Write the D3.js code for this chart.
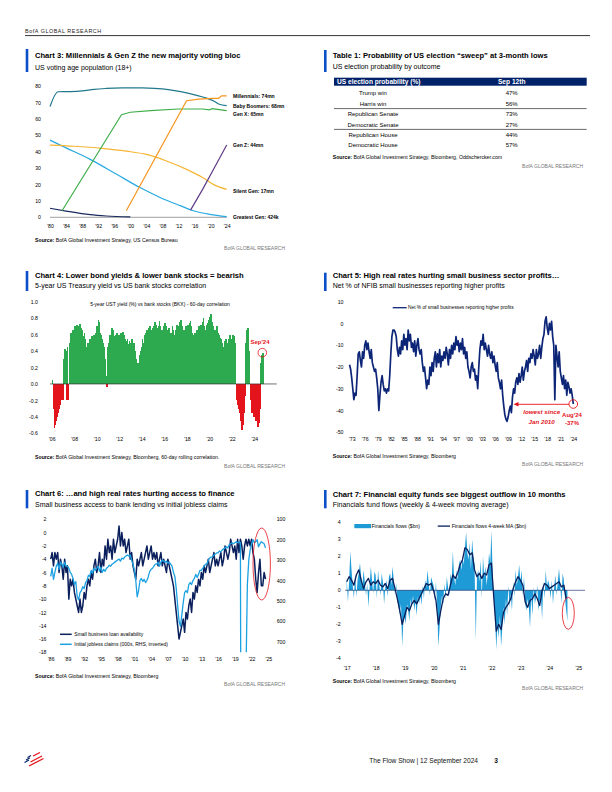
<!DOCTYPE html>
<html><head><meta charset="utf-8">
<script src="https://cdn.jsdelivr.net/npm/d3@7"></script>
<style>
body{margin:0;background:#fff}
svg{display:block}
text{font-family:"Liberation Sans Narrow","Arial Narrow","Liberation Sans",sans-serif}
</style></head><body>
<svg id="page" width="612" height="792"></svg>
<script>
// ---------------- DATA ----------------
// Chart 3: US voting age population (mn)
const boomersYears = [1980,1982,1985,1988,1991,1994,1998,2003,2006,2008,2011,2014,2016,2019,2021,2022,2024];
const boomersVals  = [67.5,76.5,76.6,77,78,78.5,78.8,78.8,78.6,78.2,77.2,75.8,74.6,72.6,70.6,69,68];
const genXYears = [1983,1997.8,2000,2005,2012,2018,2019.8,2020.3,2024];
const genXVals  = [4,62.5,64,65,66,66,65.5,66.2,65];
const millYears = [1999,2014,2017,2020.5,2022,2022.7,2024];
const millVals  = [4,71,72,72.5,72.5,74,74];
const genZYears = [2015,2018,2021,2024];
const genZVals  = [4.4,17,30.5,44];
const silentYears = [1980,1986,1993,1999,2004,2009,2014,2018,2021,2024];
const silentVals  = [44,43.3,42,40.3,38.3,34.3,29.2,24.2,19.6,17];
const greatestYears = [1980,1984,1990,1996.6,2002.4,2007.4,2012.4,2015.7,2019.8,2024];
const greatestVals  = [47,42.3,35.3,26.2,18.1,12.1,7.1,4,1.8,0.4];
const lostYears = [1980,1984,1990,1994,2000];
const lostVals  = [5.5,3.8,1.6,0.8,0.2];
const genLabels = ["Millennials: 74mn","Baby Boomers: 68mn","Gen X: 65mn","Gen Z: 44mn","Silent Gen: 17mn","Greatest Gen: 424k"];
const c3YTicks = [0,10,20,30,40,50,60,70,80];
const c3XTicks = [1980,1984,1988,1992,1996,2000,2004,2008,2012,2016,2020,2024];
const c3XLabels = ["'80","'84","'88","'92","'96","'00","'04","'08","'12","'16","'20","'24"];

// Table 1
const tableHeader = ["US election probability (%)","Sep 12th"];
const outcomes = ["Trump win","Harris win","Republican Senate","Democratic Senate","Republican House","Democratic House"];
const probs = [47,56,73,27,44,57];

// Chart 4: 60-day correlation, monthly from Jan 2006
const corrStart = 2006;
const corrVals = [
 0.05,-0.3,-0.54,-0.5,-0.45,-0.4,-0.35,-0.3,-0.25,-0.2,-0.12,-0.2,
 0.3,0.42,0.4,-0.2,0.45,-0.2,0.5,0.58,0.62,0.6,0.66,0.62,
 0.7,0.66,0.72,0.65,0.7,0.73,0.68,0.6,0.66,0.58,0.62,0.55,
 0.35,0.45,0.5,0.48,0.55,0.52,0.58,0.5,0.6,0.55,0.62,0.7,
 0.65,0.78,0.75,0.62,0.6,0.55,0.5,0.45,0.3,0.1,-0.04,0.45,
 0.5,0.6,0.55,0.68,0.6,0.66,0.58,0.55,0.6,0.62,0.58,0.6,
 0.55,0.62,0.58,0.63,0.6,0.55,0.52,0.5,0.55,0.48,0.52,0.45,
 0.5,0.55,0.45,0.5,0.4,0.3,0.25,0.22,0.25,0.35,0.4,0.45,
 0.55,0.5,0.6,0.58,0.62,0.65,0.6,0.68,0.7,0.65,0.62,0.68,
 0.7,0.75,0.72,0.65,0.68,0.7,0.76,0.7,0.62,0.65,0.6,0.7,
 0.74,0.7,0.65,0.6,0.68,0.55,0.62,0.58,0.7,0.65,0.6,0.66,
 0.68,0.72,0.7,0.65,0.75,0.78,0.7,0.65,0.6,0.66,0.7,0.68,
 0.72,0.65,0.74,0.76,0.7,0.62,0.6,0.55,0.62,0.58,0.65,0.6,
 0.7,0.65,0.72,0.6,0.75,0.8,0.7,0.65,0.72,0.68,0.74,0.78,
 0.82,0.85,0.75,0.7,0.66,0.6,0.65,0.7,0.62,0.58,0.6,0.56,
 0.55,0.5,0.4,0.45,0.52,0.55,0.5,0.48,0.55,0.6,0.55,0.5,
 0.6,0.55,0.58,0.5,-0.1,-0.2,-0.25,-0.3,-0.35,-0.45,-0.56,-0.5,
 -0.35,-0.15,0.5,0.65,0.68,0.6,0.4,-0.2,-0.3,-0.35,-0.3,-0.4,
 -0.35,-0.45,-0.4,-0.52,-0.48,-0.3,0.25,0.35,0.38];
const c4YTicks = [-0.6,-0.4,-0.2,0,0.2,0.4,0.6,0.8,1.0];
const c4YLabels = ["-0.6","-0.4","-0.2","0.0","0.2","0.4","0.6","0.8","1.0"];
const c4XTicks = [2006,2008,2010,2012,2014,2016,2018,2020,2022,2024];
const c4XLabels = ["'06","'08","'10","'12","'14","'16","'18","'20","'22","'24"];

// Chart 5: NFIB net % higher profits, quarterly from 1972.5
const nfibStart = 1972.5;
const nfibVals = [
 -19,-21,
 -25,-30,-35,-32, -33,-24,-14,-13, -17,-20,-13,-16, -10,-8,-12,-9,
 -13,-16,-12,-18, -20,-22,-21,-25, -30,-40,-33,-27, -24,-28,-31,-30,
 -32,-30,-31,-24, -14,-6,-3,-3, -4,-6,-12,-15, -11,-14,-8,-12,
 -5,-10,-7,-12, -3,-8,-5,-11, -9,-13,-8,-15, -10,-7,-12,-14,
 -12,-18,-22,-20, -25,-30,-26,-28, -20,-24,-18,-22, -16,-13,-20,-14,
 -18,-12,-20,-15, -17,-13,-16,-11, -14,-19,-12,-16, -10,-14,-9,-12,
 -6,-10,-8,-13, -9,-12,-7,-14, -11,-16,-13,-20, -22,-25,-20,-18,
 -22,-21,-26,-24, -30,-20,-12,-8, -10,-5,-12,-9, -12,-15,-10,-14,
 -16,-13,-18,-15, -19,-22,-18,-25, -27,-30,-26,-33, -38,-42,-44,-45,
 -43,-40,-38,-41, -34,-30,-32,-27, -25,-28,-23,-27, -24,-20,-26,-22,
 -20,-17,-22,-16, -18,-14,-16,-12, -15,-19,-12,-16, -14,-10,-16,-11,
 -7,-5,1,3, -2,-5,0,-3, 1,-6,-10,-35, -10,-15,-20,-13,
 -22,-25,-28,-24, -30,-26,-33,-27, -29,-32,-30,-33, -37];
const c5YTicks = [-50,-40,-30,-20,-10,0,10];
const c5XTicks = [1973,1976,1979,1982,1985,1988,1991,1994,1997,2000,2003,2006,2009,2012,2015,2018,2021,2024];
const c5XLabels = ["'73","'76","'79","'82","'85","'88","'91","'94","'97","'00","'03","'06","'09","'12","'15","'18","'21","'24"];

// Chart 6: quarterly from 1986.0
const c6Start = 1986;
const loanVals = [
 -4,-3,-5,-3, -4,-3,-6,-4, -5,-7,-4,-6, -5,-10,-7,-8, -7,-9,-10,-11,
 -12,-10,-12,-11, -9,-10,-8,-7, -8,-6,-7,-5, -4,-6,-5,-3, -6,-4,-5,-2,
 -4,-1,-3,-2, -4,-1,-3,-2, -1,1,-2,0, -2,-1,-3,-2, -1,-4,-3,-5,
 -6,-7,-4,-5, -4,-3,-5,-4, -3,-2,-4,-3, -2,-4,-3,-4, -3,-5,-4,-3,
 -5,-4,-5,-6, -4,-5,-6,-7, -8,-10,-12,-14, -16,-15,-14,-13, -15,-12,-13,-11,
 -10,-12,-9,-10, -8,-9,-7,-8, -6,-7,-5,-6, -5,-4,-6,-5, -4,-3,-5,-4,
 -5,-4,-3,-5, -4,-2,-3,-4, -3,-1,-2,-3, -2,-4,-1,-3, -1,-2,-4,-2,
 -1,-2,-1,-2, -1,-3,-4,-7, -9,-6,-4,-8, -8,-6,-7];
const claimsVals = [
 380,340,395,360, 330,315,345,310, 320,335,310,330, 330,340,360,370, 390,420,405,480,
 495,460,450,430, 440,410,400,375, 380,350,365,340, 350,340,330,355, 335,360,345,355,
 340,335,325,330, 320,315,310,305, 300,295,305,290, 295,285,280,275, 280,275,300,320,
 350,400,480,450, 400,390,405,395, 410,400,380,355, 345,340,330,320, 320,310,330,310,
 300,305,310,305, 315,310,320,330, 360,380,440,520, 600,625,570,510, 460,450,460,420,
 410,420,400,390, 370,385,370,350, 350,340,330,320, 320,300,290,285, 285,275,270,265,
 265,255,260,250, 245,240,235,240, 225,220,215,220, 215,210,215,210, 215,3000,1300,1000,
 850,420,300,250, 220,200,215,210, 200,235,220,210, 215,220,240];
const c6LTicks = [-18,-16,-14,-12,-10,-8,-6,-4,-2,0,2];
const c6RTicks = [100,200,300,400,500,600,700];
const c6XTicks = [1986,1989,1992,1995,1998,2001,2004,2007,2010,2013,2016,2019,2022,2025];
const c6XLabels = ["'86","'89","'92","'95","'98","'01","'04","'07","'10","'13","'16","'19","'22","'25"];

// Chart 7: financials flows ($bn), semi-monthly from 2017.0; MA monthly
const c7Start = 2017;
const flowVals = [
 0.8,-0.7,0.5,2.3,1.2,0.3,-0.5,1.0,-0.4,0.6,1.0,1.6,0.8,0.2,1.2,0.5,-0.3,0.4,-1.0,0.2,1.4,0.6,-0.2,1.1,
 0.9,-0.5,1.2,0.3,-0.3,1.0,0.5,-0.8,0.2,0.6,-0.4,0.8,1.0,0.3,1.4,0.6,-0.2,0.4,-0.6,-1.0,-1.4,-0.8,-3.3,-1.8,
 -1.5,-2.0,-0.8,-1.2,-1.8,-0.5,-1.0,-0.3,-1.2,-0.6,-1.5,-0.4,-0.8,-0.2,-0.9,0.3,-0.5,0.6,0.2,1.2,0.4,-0.3,0.8,0.5,
 0.3,-0.6,0.5,-1.0,-3.3,-2.2,-1.0,-0.3,-0.8,0.4,-0.5,0.8,0.2,-0.3,1.0,0.5,2.3,0.8,0.3,1.2,0.6,1.5,1.8,1.2,
 2.0,1.5,2.5,3.4,2.2,1.8,2.8,1.2,3.0,2.0,1.5,-3.0,0.8,1.2,0.5,1.8,-0.5,2.0,0.8,1.4,0.3,1.0,2.2,1.6,
 3.5,1.0,-0.5,-1.5,-3.5,-2.0,-2.8,-1.5,-3.3,-2.2,-1.0,-2.0,-0.5,-1.5,0.3,-1.0,-0.2,-1.2,0.5,-0.4,1.2,0.3,0.8,1.5,
 0.5,1.2,-0.3,0.8,-0.8,-1.2,-0.5,-1.0,-2.2,-0.3,-1.5,0.2,-0.8,-0.4,0.3,-1.2,-0.6,-0.3,-1.7,0.5,-0.5,1.2,0.2,0.6,
 0.3,-0.5,0.6,-0.8,0.2,0.9,-0.3,0.5,1.3,0.4,-0.8,1.0,0.6,-0.5,-1.2,-1.8];
const maVals = [
 0.5,0.8,0.6,0.3,0.9,1.2,0.6,0.1,0.5,0.7,0.3,0.5,
 0.4,0.6,0.3,0.2,0.4,0.1,0.6,0.7,0.1,-0.5,-1.2,-2.0,
 -1.5,-1.0,-1.2,-0.8,-0.6,-0.8,-0.5,-0.2,0.1,0.4,0.3,0.4,
 0.0,-0.6,-2.0,-1.2,-0.5,-0.2,-0.3,0.3,0.9,0.7,1.0,1.5,
 1.8,2.5,2.4,2.1,2.2,1.2,0.8,1.0,0.7,1.0,0.9,1.5,
 1.6,-0.5,-2.4,-2.0,-2.3,-1.3,-1.0,-0.8,-0.5,0.1,0.5,0.8,
 0.6,0.3,-0.7,-1.0,-0.6,-0.5,-0.2,-0.5,-0.9,0.0,0.4,0.3,
 0.1,0.2,0.3,0.4,0.5,0.2,0.3,-0.5];
const c7YTicks = [-4,-3,-2,-1,0,1,2,3,4];
const c7XTicks = [2017,2018,2019,2020,2021,2022,2023,2024,2025];
const c7XLabels = ["'17","'18","'19","'20","'21","'22","'23","'24","'25"];

// ---------------- DRAWING ----------------
const FONT = '"Liberation Sans Narrow","Arial Narrow","Liberation Sans",sans-serif';
const NAVY = '#012169', BAR = '#0b50c8', RED = '#e3141c';
const svg = d3.select('#page');

function txt(x, y, s, o = {}) {
  const t = svg.append('text').attr('x', x).attr('y', y).text(s)
    .attr('font-size', o.size || 5).attr('fill', o.fill || '#000')
    .attr('font-weight', o.weight || 'normal')
    .attr('text-anchor', o.anchor || 'start')
    .attr('dominant-baseline', 'central');
  if (o.style) t.attr('font-style', o.style);
  if (o.ls) t.attr('letter-spacing', o.ls);
  return t;
}
function head(bx, tx, y1, y2, ty, sy, title, sub) {
  svg.append('rect').attr('x', bx).attr('y', y1).attr('width', 2.6).attr('height', y2 - y1).attr('fill', BAR);
  txt(tx, ty, title, {size: 7.6, weight: 'bold'});
  txt(tx, sy, sub, {size: 7});
}
function source(x, y, rest) {
  const t = txt(x, y, '', {size: 5.2});
  t.append('tspan').attr('font-weight', 'bold').text('Source: ');
  t.append('tspan').text(rest);
}
function brand(x, y) { txt(x, y, 'BofA GLOBAL RESEARCH', {size: 5, fill: '#777', anchor: 'end'}); }
function styleAxis(g) {
  g.select('.domain').remove();
  g.attr('font-family', null).attr('font-size', null);
  g.selectAll('text').attr('font-size', 5.2).attr('font-family', FONT).attr('fill', '#000');
}
function yAxisL(scale, ticks, labels, xRight) {
  const g = svg.append('g').attr('transform', `translate(${xRight},0)`)
    .call(d3.axisLeft(scale).tickValues(ticks).tickSize(0).tickPadding(0)
      .tickFormat((d, i) => labels ? labels[i] : String(d)));
  styleAxis(g);
}
function xAxisB(scale, ticks, labels, yTop) {
  const g = svg.append('g').attr('transform', `translate(0,${yTop})`)
    .call(d3.axisBottom(scale).tickValues(ticks).tickSize(0).tickPadding(0)
      .tickFormat((d, i) => labels[i]));
  styleAxis(g);
}

// Page header
txt(25, 31, 'BofA GLOBAL RESEARCH', {size: 5.4, ls: 0.55, fill: '#222'});
svg.append('line').attr('x1', 25).attr('x2', 590).attr('y1', 35.6).attr('y2', 35.6).attr('stroke', '#000').attr('stroke-width', 0.8);

// ---------- Chart 3 ----------
head(25.7, 35, 49, 72, 55, 67, 'Chart 3: Millennials & Gen Z the new majority voting bloc', 'US voting age population (18+)');
{
  const x = d3.scaleLinear([1980, 2024], [50, 226.7]);
  const y = d3.scaleLinear([0, 80], [217.3, 86]);
  yAxisL(y, c3YTicks, null, 41);
  xAxisB(x, c3XTicks, c3XLabels, 224);
  svg.append('line').attr('x1', x(1980)).attr('x2', x(2024)).attr('y1', y(0)).attr('y2', y(0)).attr('stroke', '#777').attr('stroke-width', 0.7);
  const series = [
    [lostYears, lostVals, '#1b2a5e', true],
    [greatestYears, greatestVals, '#27aae1', true],
    [silentYears, silentVals, '#f6b532', true],
    [genXYears, genXVals, '#3fae49', false],
    [boomersYears, boomersVals, '#21788c', true],
    [millYears, millVals, '#f7941d', false],
    [genZYears, genZVals, '#5f3a86', false]
  ];
  series.forEach(([ys, vs, c, smooth]) => {
    const line = d3.line().x(d => x(d[0])).y(d => y(d[1])).curve(smooth ? d3.curveMonotoneX : d3.curveLinear);
    svg.append('path').datum(ys.map((t, i) => [t, vs[i]])).attr('d', line)
      .attr('fill', 'none').attr('stroke', c).attr('stroke-width', 1.2).attr('stroke-linejoin', 'round');
  });
  const labelY = [96, 106, 114.3, 145.3, 191, 216.7];
  genLabels.forEach((s, i) => txt(233, labelY[i], s, {size: 5, weight: 'bold'}));
}
source(35, 239.5, 'BofA Global Investment Strategy, US Census Bureau');
brand(285, 248);

// ---------- Table 1 ----------
head(324, 332.7, 50, 72, 55.7, 66.7, 'Table 1: Probability of US election \u201csweep\u201d at 3-month lows', 'US election probability by outcome');
{
  svg.append('rect').attr('x', 334).attr('y', 77.7).attr('width', 252.7).attr('height', 8).attr('fill', NAVY);
  txt(337, 81.8, tableHeader[0], {size: 6.6, weight: 'bold', fill: '#fff'});
  txt(511.7, 81.8, tableHeader[1], {size: 6.6, weight: 'bold', fill: '#fff', anchor: 'middle'});
  const rows = d3.scaleBand().domain(d3.range(outcomes.length)).range([88.1, 150.5]);
  outcomes.forEach((o, i) => {
    const cy = rows(i) + rows.bandwidth() / 2;
    txt(373, cy, o, {size: 6, anchor: 'middle'});
    txt(511.7, cy, probs[i] + '%', {size: 6, anchor: 'middle'});
  });
  [2, 4].forEach(i => {
    svg.append('line').attr('x1', 334).attr('x2', 586.7).attr('y1', rows(i) - 0.3).attr('y2', rows(i) - 0.3)
      .attr('stroke', '#444').attr('stroke-width', 0.8);
  });
}
source(332.7, 157.3, 'BofA Global Investment Strategy, Bloomberg, Oddschercker.com');
brand(583, 166);

// ---------- Chart 4 ----------
head(25.7, 35, 271, 291, 275, 285.5, 'Chart 4: Lower bond yields & lower bank stocks = bearish', '5-year US Treasury yield vs US bank stocks correlation');
{
  const x = d3.scaleLinear([2006, 2024], [51.7, 254.3]);
  const y = d3.scaleLinear([-0.6, 1.0], [433.3, 301.7]);
  yAxisL(y, c4YTicks, c4YLabels, 38);
  xAxisB(x, c4XTicks, c4XLabels, 437.3);
  const w = x(corrStart + 1 / 12) - x(corrStart);
  svg.append('g').attr('shape-rendering', 'crispEdges').selectAll('rect').data(corrVals).join('rect')
    .attr('x', (d, i) => x(corrStart + i / 12))
    .attr('width', w + 0.8)
    .attr('y', d => y(Math.max(0, d)))
    .attr('height', d => Math.abs(y(d) - y(0)))
    .attr('fill', d => d >= 0 ? '#2da94f' : RED);
  svg.append('line').attr('x1', 50).attr('x2', 276.7).attr('y1', y(0)).attr('y2', y(0)).attr('stroke', '#333').attr('stroke-width', 0.7);
  txt(160, 304, '5-year UST yield (%) vs bank stocks (BKX) - 60-day correlation', {size: 5, anchor: 'middle'});
  const last = corrVals.length - 1;
  svg.append('circle').attr('cx', x(corrStart + last / 12) + 0.5).attr('cy', y(corrVals[last])).attr('r', 4.3)
    .attr('fill', 'none').attr('stroke', RED).attr('stroke-width', 0.8);
  txt(260, 341.7, "Sep'24", {size: 6, weight: 'bold', fill: RED, anchor: 'middle'});
}
source(35, 457.3, 'BofA Global Investment Strategy, Bloomberg, 60-day rolling correlation.');
brand(285, 466.3);

// ---------- Chart 5 ----------
head(324, 332.7, 272.7, 291, 275, 285.5, 'Chart 5: High real rates hurting small business sector profits\u2026', 'Net % of NFIB small businesses reporting higher profits');
{
  const x = d3.scaleLinear([1973, 2024], [351.7, 573.3]);
  const y = d3.scaleLinear([-50, 10], [432.3, 301.7]);
  yAxisL(y, c5YTicks, null, 343.5);
  xAxisB(x, c5XTicks, c5XLabels, 437.3);
  const line = d3.line().x((d, i) => x(nfibStart + i / 4)).y(d => y(d));
  svg.append('path').datum(nfibVals).attr('d', line).attr('fill', 'none')
    .attr('stroke', '#0c2577').attr('stroke-width', 1.7).attr('stroke-linejoin', 'round');
  svg.append('line').attr('x1', 392.7).attr('x2', 406.7).attr('y1', 307.7).attr('y2', 307.7).attr('stroke', '#0c2577').attr('stroke-width', 1.3);
  txt(408, 307.7, 'Net % of small businesses reporting higher profits', {size: 4.8});
  // annotation
  svg.append('line').attr('x1', 569).attr('x2', 517).attr('y1', 404.3).attr('y2', 404.3).attr('stroke', RED).attr('stroke-width', 0.9);
  svg.append('path').attr('d', 'M513.5,404.3 L518.5,402 L518.5,406.6 Z').attr('fill', RED);
  const last = nfibVals.length - 1;
  svg.append('circle').attr('cx', x(nfibStart + last / 4)).attr('cy', y(nfibVals[last])).attr('r', 4.3)
    .attr('fill', 'none').attr('stroke', RED).attr('stroke-width', 0.9);
  txt(541.7, 411.7, 'lowest since', {size: 6.2, weight: 'bold', style: 'italic', fill: RED, anchor: 'middle'});
  txt(541.7, 421, 'Jan 2010', {size: 6.2, weight: 'bold', style: 'italic', fill: RED, anchor: 'middle'});
  txt(572, 414.8, "Aug'24", {size: 6, weight: 'bold', fill: RED, anchor: 'middle'});
  txt(572, 422.6, '-37%', {size: 6, weight: 'bold', fill: RED, anchor: 'middle'});
}
source(332.7, 456, 'BofA Global Investment Strategy, Bloomberg');
brand(583, 464);

// ---------- Chart 6 ----------
head(25.7, 35, 490, 508.3, 493.3, 504, 'Chart 6: \u2026and high real rates hurting access to finance', 'Small business access to bank lending vs initial jobless claims');
{
  const x = d3.scaleLinear([1986, 2025], [50.7, 268.3]);
  const yL = d3.scaleLinear([-18, 2], [652.3, 519.3]);
  const yR = d3.scaleLinear([752, 100], [652.3, 519.3]);
  yAxisL(yL, c6LTicks, null, 46.5);
  const gR = svg.append('g').attr('transform', 'translate(276.7,0)')
    .call(d3.axisRight(yR).tickValues(c6RTicks).tickSize(0).tickPadding(0));
  styleAxis(gR);
  xAxisB(x, c6XTicks, c6XLabels, 657.3);
  svg.append('clipPath').attr('id', 'c6clip').append('rect').attr('x', 45).attr('y', 510).attr('width', 235).attr('height', 142.3);
  const lineL = d3.line().x((d, i) => x(c6Start + i / 4)).y(d => yL(d));
  const lineR = d3.line().x((d, i) => x(c6Start + i / 4)).y(d => yR(d));
  svg.append('path').datum(loanVals).attr('d', lineL).attr('fill', 'none')
    .attr('stroke', '#0a1f5c').attr('stroke-width', 1.5).attr('stroke-linejoin', 'round');
  svg.append('path').datum(claimsVals).attr('d', lineR).attr('fill', 'none').attr('clip-path', 'url(#c6clip)')
    .attr('stroke', '#1ba1e2').attr('stroke-width', 1.3).attr('stroke-linejoin', 'round');
  svg.append('line').attr('x1', 60).attr('x2', 71.7).attr('y1', 634.3).attr('y2', 634.3).attr('stroke', '#0a1f5c').attr('stroke-width', 1.5);
  txt(74.3, 634.3, 'Small business loan availability', {size: 5});
  svg.append('line').attr('x1', 60).attr('x2', 71.7).attr('y1', 644.3).attr('y2', 644.3).attr('stroke', '#1ba1e2').attr('stroke-width', 1.5);
  txt(74.3, 644.3, 'Initial jobless claims (000s, RHS, inverted)', {size: 5});
  svg.append('ellipse').attr('cx', 261.7).attr('cy', 564).attr('rx', 8.7).attr('ry', 36)
    .attr('fill', 'none').attr('stroke', RED).attr('stroke-width', 0.8);
}
source(35, 676, 'BofA Global Investment Strategy, Bloomberg');
brand(285, 684);

// ---------- Chart 7 ----------
head(324, 332.7, 490, 508.3, 494, 504.3, 'Chart 7: Financial equity funds see biggest outflow in 10 months', 'Financials fund flows (weekly & 4-week moving average)');
{
  const x = d3.scaleLinear([2017, 2025], [346.7, 578.3]);
  const y = d3.scaleLinear([-4, 4], [658.3, 522.3]);
  yAxisL(y, c7YTicks, null, 340.7);
  xAxisB(x, c7XTicks, c7XLabels, 666);
  const area = d3.area().x((d, i) => x(c7Start + i / 24)).y0(y(0)).y1(d => y(d));
  svg.append('path').datum(flowVals).attr('d', area).attr('fill', '#1e9bd7');
  svg.append('line').attr('x1', 345).attr('x2', 585).attr('y1', y(0)).attr('y2', y(0)).attr('stroke', '#0a1f5c').attr('stroke-width', 0.6);
  const line = d3.line().x((d, i) => x(c7Start + i / 12)).y(d => y(d));
  svg.append('path').datum(maVals).attr('d', line).attr('fill', 'none')
    .attr('stroke', '#0a1f5c').attr('stroke-width', 1.3).attr('stroke-linejoin', 'round');
  svg.append('rect').attr('x', 354.3).attr('y', 524).attr('width', 16.7).attr('height', 4.2).attr('fill', '#1e9bd7');
  txt(371.5, 526.1, 'Financials flows ($bn)', {size: 5});
  svg.append('line').attr('x1', 437.7).attr('x2', 450).attr('y1', 526.1).attr('y2', 526.1).attr('stroke', '#0a1f5c').attr('stroke-width', 1.3);
  txt(451.7, 526.1, 'Financials flows 4-week MA ($bn)', {size: 5});
  svg.append('ellipse').attr('cx', 568.3).attr('cy', 613.3).attr('rx', 6).attr('ry', 16)
    .attr('fill', 'none').attr('stroke', RED).attr('stroke-width', 0.8);
}
source(332.7, 681, 'BofA Global Investment Strategy, Bloomberg');
brand(583, 688.3);

// ---------- Footer ----------
{
  const g = svg.append('g');
  [[27.5,757.5,31,755.5],[26,760,30,757.7],[24.5,762.5,29,760]].forEach(c =>
    g.append('line').attr('x1', c[0]).attr('y1', c[1]).attr('x2', c[2]).attr('y2', c[3]).attr('stroke', NAVY).attr('stroke-width', 1.1));
  [[33,756,40,752.5],[30.5,762,42,756],[29,766,43.5,758.5]].forEach(c =>
    g.append('line').attr('x1', c[0]).attr('y1', c[1]).attr('x2', c[2]).attr('y2', c[3]).attr('stroke', RED).attr('stroke-width', 1.3));
  txt(478, 760, 'The Flow Show | 12 September 2024', {size: 6.6, anchor: 'end', fill: '#111'});
  txt(496, 760, '3', {size: 6.6, weight: 'bold', anchor: 'middle', fill: '#111'});
}
</script>
</body></html>
